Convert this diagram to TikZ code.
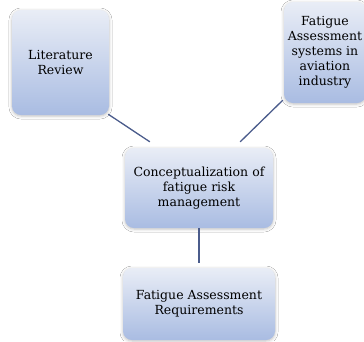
\documentclass[tikz,border=0pt]{standalone}
\usepackage{fontspec}
\setmainfont{DejaVu Serif}
\usetikzlibrary{shadows.blur}
\definecolor{boxtop}{HTML}{E9EDF6}
\definecolor{boxbot}{HTML}{A9BCE2}
\definecolor{linkcol}{HTML}{4B5C8C}
\tikzset{
  topic/.style={rectangle, rounded corners=9pt, top color=boxtop, bottom color=boxbot,
    align=center, inner sep=2pt, font=\fontsize{12.5}{15}\selectfont,
    blur shadow={shadow xshift=0pt, shadow yshift=-1pt, shadow blur radius=3pt, shadow opacity=25}},
  link/.style={draw=linkcol, line width=1.3pt}
}
\begin{document}
\begin{tikzpicture}[x=1pt, y=-1pt]
  \clip (0,0) rectangle (364,341);
  \fill[white] (0,0) rectangle (364,341);
  \node[topic, minimum width=97pt, minimum height=105pt] (lit) at (60.5,62.5) {Literature\\Review};
  \node[topic, minimum width=82pt, minimum height=101pt] (fas) at (325,52.5) {Fatigue\\Assessment\\systems in\\aviation\\industry};
  \node[topic, minimum width=148pt, minimum height=80pt] (concept) at (199,188) {Conceptualization of\\fatigue risk\\management};
  \node[topic, minimum width=152pt, minimum height=72pt] (req) at (199,304) {Fatigue Assessment\\Requirements};
  % connectors
  \draw[link] ([xshift=-1pt,yshift=1pt]lit.south east) -- ([xshift=25pt,yshift=6pt]concept.north west);
  \draw[link] ([xshift=-1pt,yshift=3pt]fas.south west) -- ([xshift=-33pt,yshift=6pt]concept.north east);
  \draw[link, shorten >=5pt] (concept.south) -- (req.north);
\end{tikzpicture}
\end{document}
